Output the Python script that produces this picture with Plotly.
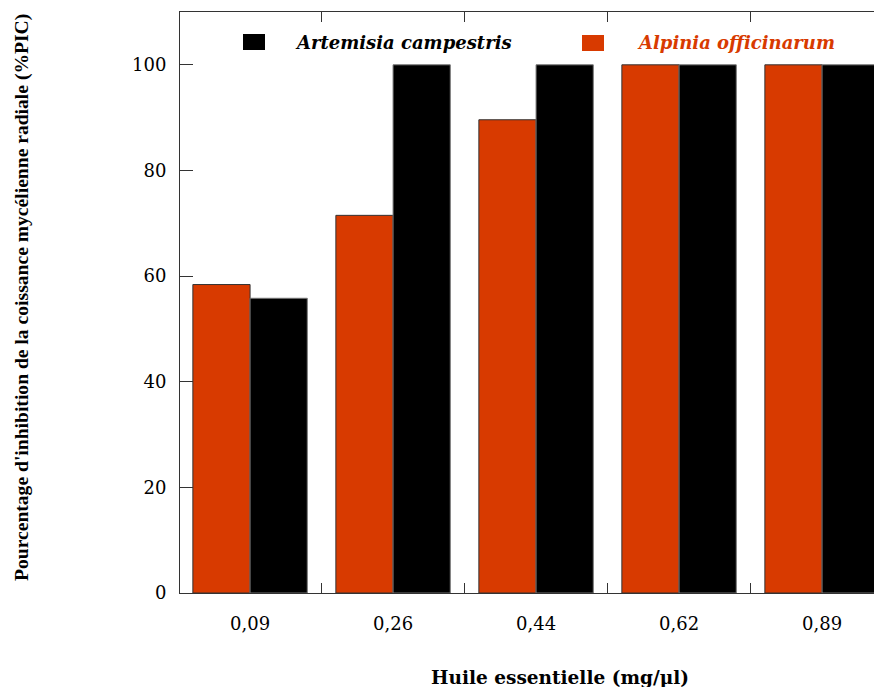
import plotly.graph_objects as go

categories = ["0,09", "0,26", "0,44", "0,62", "0,89"]
alpinia = [58.4, 71.5, 89.6, 100, 100]
artemisia = [55.8, 100, 100, 100, 100]
series_names = ["Artemisia campestris", "Alpinia officinarum"]
y_ticks = [0, 20, 40, 60, 80, 100]

ORANGE = "#D83A00"
BLACK = "#000000"

# the page body has an 8px margin: work in screenshot pixels, shift by OFF
OFF = 8
W, H = 882 - 2 * OFF, 695 - 2 * OFF
ML, MT = 180 - OFF, 12 - OFF
MB = H - (593 - OFF)
MR = 0
PW, PH = W - ML - MR, H - MT - MB
CAT_PX = 143.0
X_LEFT = -0.49

def px2paper_x(px):
    return (px - OFF - ML) / PW

def px2paper_y(py):
    return (H - MB - (py - OFF)) / PH

fig = go.Figure()
fig.add_trace(go.Bar(x=categories, y=alpinia, name=series_names[1],
                     marker=dict(color=ORANGE, line=dict(color="#333333", width=1)),
                     showlegend=False))
fig.add_trace(go.Bar(x=categories, y=artemisia, name=series_names[0],
                     marker=dict(color=BLACK, line=dict(color="#777777", width=1)),
                     showlegend=False))

tick_font = dict(family="DejaVu Serif", size=18, color="black")

fig.update_layout(
    width=W, height=H,
    margin=dict(l=ML, r=MR, t=MT, b=MB),
    paper_bgcolor="white", plot_bgcolor="white",
    barmode="group", bargap=0.2, bargroupgap=0,
    xaxis=dict(type="category", range=[X_LEFT, X_LEFT + PW / CAT_PX], tickson="boundaries",
               ticks="inside", ticklen=10, tickcolor="#333", showline=True,
               linecolor="#333", linewidth=1, mirror="ticks", showgrid=False,
               tickfont=tick_font, ticklabelstandoff=14, zeroline=False),
    yaxis=dict(range=[0, 110], tickvals=y_ticks, ticks="inside", ticklen=13,
               tickcolor="#333", showline=True, linecolor="#333", linewidth=1,
               mirror=False, showgrid=False, zeroline=False,
               tickfont=tick_font, ticklabelstandoff=9),
)

# legend drawn as squares + labels
legend_items = [
    (243, 265, 34, 50, BLACK, 293, series_names[0], "black"),
    (582, 604, 35, 51, ORANGE, 635, series_names[1], ORANGE),
]
for x0, x1, y0, y1, col, tx, label, tcol in legend_items:
    fig.add_shape(type="rect", xref="paper", yref="paper",
                  x0=px2paper_x(x0), x1=px2paper_x(x1),
                  y0=px2paper_y(y1), y1=px2paper_y(y0),
                  fillcolor=col, line=dict(width=0))
    fig.add_annotation(xref="paper", yref="paper", x=px2paper_x(tx),
                       y=px2paper_y(42), xanchor="left", yanchor="middle",
                       text=f"<b><i>{label}</i></b>", showarrow=False,
                       font=dict(family="DejaVu Serif", size=18, color=tcol))

fig.add_annotation(xref="paper", yref="paper", x=px2paper_x(560), y=px2paper_y(677),
                   xanchor="center", yanchor="middle", showarrow=False,
                   text="<b>Huile essentielle (mg/µl)</b>",
                   font=dict(family="DejaVu Serif", size=18.5, color="black"))
fig.add_annotation(xref="paper", yref="paper", x=px2paper_x(22), y=px2paper_y(298),
                   xanchor="center", yanchor="middle", showarrow=False, textangle=-90,
                   text="<b>Pourcentage d'inhibition de la coissance mycélienne radiale (%PIC)</b>",
                   font=dict(family="Liberation Serif", size=19.6, color="black"))

fig.write_html("out.html")
